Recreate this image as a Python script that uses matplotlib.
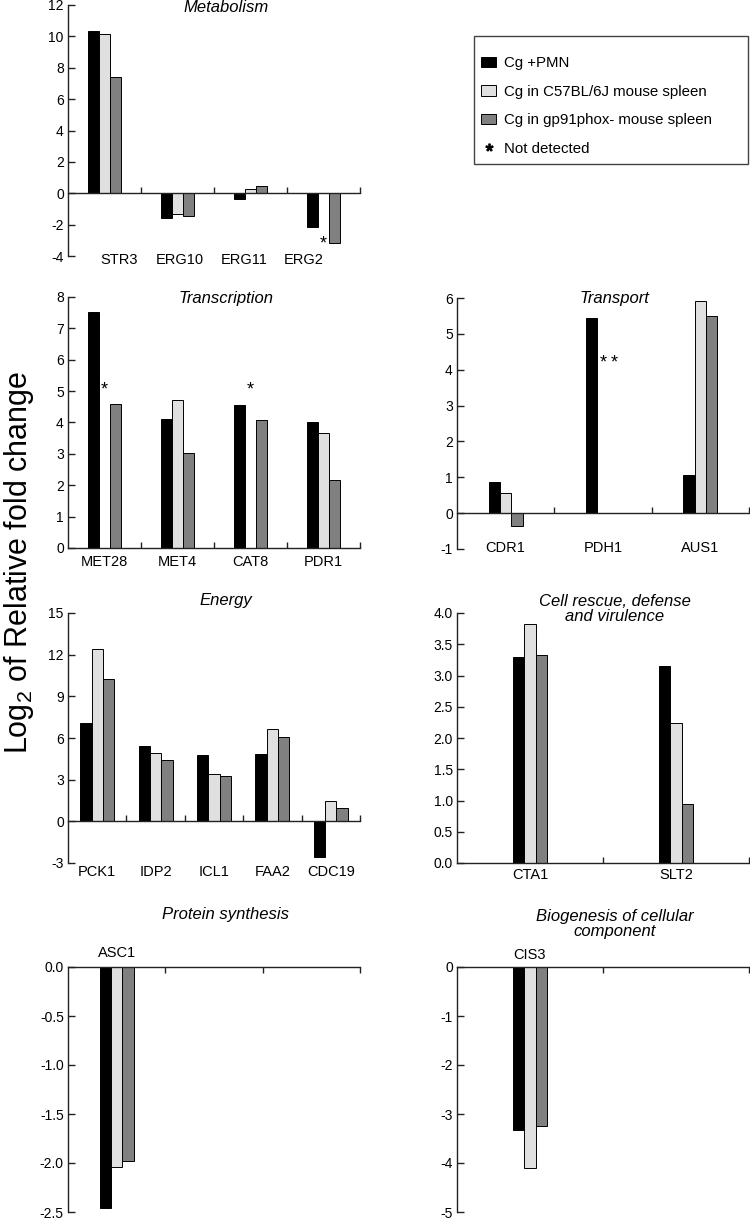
import numpy as np
import matplotlib
matplotlib.use('Agg')
import matplotlib.pyplot as plt
from matplotlib.patches import Patch, Rectangle
from matplotlib.lines import Line2D

plt.rcParams['font.family'] = ['Liberation Sans', 'DejaVu Sans']
plt.rcParams['axes.unicode_minus'] = False
plt.rcParams['mathtext.default'] = 'regular'

nan = np.nan

# dados (log2 fold change)
series_nomes = ['Cg +PMN', 'Cg in C57BL/6J mouse spleen', 'Cg in gp91phox- mouse spleen']
cores = ['#000000', '#e0e0e0', '#808080']

metab_genes = ['STR3', 'ERG10', 'ERG11', 'ERG2']
metab_pmn = [10.35, -1.60, -0.38, -2.13]
metab_c57 = [10.12, -1.34, 0.28, nan]
metab_gp91 = [7.41, -1.47, 0.49, -3.16]
metab_nd = [(3, 1, -3.25)]

transc_genes = ['MET28', 'MET4', 'CAT8', 'PDR1']
transc_pmn = [7.53, 4.10, 4.56, 4.03]
transc_c57 = [nan, 4.71, nan, 3.68]
transc_gp91 = [4.58, 3.02, 4.07, 2.16]
transc_nd = [(0, 1, 5.05), (2, 1, 5.05)]

transp_genes = ['CDR1', 'PDH1', 'AUS1']
transp_pmn = [0.87, 5.44, 1.06]
transp_c57 = [0.57, nan, 5.93]
transp_gp91 = [-0.35, nan, 5.49]
transp_nd = [(1, 1, 4.2), (1, 2, 4.2)]

energ_genes = ['PCK1', 'IDP2', 'ICL1', 'FAA2', 'CDC19']
energ_pmn = [7.09, 5.41, 4.78, 4.86, -2.55]
energ_c57 = [12.38, 4.90, 3.41, 6.66, 1.44]
energ_gp91 = [10.26, 4.42, 3.29, 6.06, 0.96]

cell_genes = ['CTA1', 'SLT2']
cell_pmn = [3.29, 3.15]
cell_c57 = [3.83, 2.24]
cell_gp91 = [3.33, 0.95]

prot_genes = ['ASC1']
prot_pmn = [-2.46]
prot_c57 = [-2.04]
prot_gp91 = [-1.98]

biog_genes = ['CIS3']
biog_pmn = [-3.32]
biog_c57 = [-4.10]
biog_gp91 = [-3.25]

W, H = 750, 1222
fig = plt.figure(figsize=(W / 100, H / 100), dpi=100)


def caixa(l, t, r, b):
    return [l / W, 1 - b / H, (r - l) / W, (b - t) / H]


def painel(pos, genes, series, nslots, ylim, passo, titulo, tit_dy, lab_dy,
           lab_x=None, decimal=False, topo=False, nd=()):
    ax = fig.add_axes(caixa(*pos))
    w = nslots * 11.3 / 292
    x = np.arange(len(genes)) + 0.5
    for k, (vals, cor) in enumerate(zip(series, cores)):
        ax.bar(x + (k - 1) * w, vals, w, color=cor, edgecolor='black', linewidth=0.7)

    ax.set_xlim(0, nslots)
    ax.set_ylim(*ylim)
    ax.set_yticks(np.arange(ylim[0], ylim[1] + passo / 2, passo))
    if decimal:
        ax.yaxis.set_major_formatter(plt.FormatStrFormatter('%.1f'))
    else:
        ax.yaxis.set_major_formatter(plt.FormatStrFormatter('%d'))

    ax.spines['top'].set_visible(False)
    ax.spines['right'].set_visible(False)
    ax.spines['bottom'].set_position(('data', 0))
    for s in ['left', 'bottom']:
        ax.spines[s].set_linewidth(1.0)
        ax.spines[s].set_color('#222222')

    ax.set_xticks(np.arange(1, nslots + 1))
    ax.set_xticklabels([])
    ax.tick_params(axis='x', direction='out' if topo else 'in', length=4.5, width=1.0, color='#222222')
    ax.tick_params(axis='y', direction='in', length=5, width=1.0, labelsize=10, pad=3, color='#222222')

    # nomes dos genes
    if lab_x is None:
        lab_x = x
    y0 = 0 if topo else ylim[0]
    dy = lab_dy if topo else -lab_dy
    for xi, g in zip(lab_x, genes):
        ax.annotate(g, (xi, y0), xytext=(0, dy), textcoords='offset pixels',
                    ha='center', va='center', fontsize=10.5, annotation_clip=False)

    # nao detectado
    for gi, si, yy in nd:
        ax.text(x[gi] + (si - 1) * w, yy, '*', ha='center', va='center', fontsize=13)

    ax.annotate(titulo, (0.54, 1), xycoords='axes fraction', xytext=(0, tit_dy),
                textcoords='offset pixels', ha='center', va='center',
                style='italic', fontsize=12, linespacing=1.05, annotation_clip=False)
    return ax


painel((68, 5, 360, 256), metab_genes, [metab_pmn, metab_c57, metab_gp91], 4, (-4, 12), 2,
       'Metabolism', -3, 4, lab_x=[0.70, 1.53, 2.41, 3.23], nd=metab_nd)
painel((68, 297, 360, 548), transc_genes, [transc_pmn, transc_c57, transc_gp91], 4, (0, 8), 1,
       'Transcription', -1, 14, nd=transc_nd)
painel((457, 298, 749, 549), transp_genes, [transp_pmn, transp_c57, transp_gp91], 3, (-1, 6), 1,
       'Transport', 0, -1, nd=transp_nd)
painel((68, 613, 360, 863), energ_genes, [energ_pmn, energ_c57, energ_gp91], 5, (-3, 15), 3,
       'Energy', 13, 9)
painel((457, 613, 749, 863), cell_genes, [cell_pmn, cell_c57, cell_gp91], 2, (0, 4), 0.5,
       'Cell rescue, defense\nand virulence', 4, 12, decimal=True)
painel((68, 967, 360, 1212), prot_genes, [prot_pmn, prot_c57, prot_gp91], 3, (-2.5, 0), 0.5,
       'Protein synthesis', 52, 14, decimal=True, topo=True)
painel((457, 967, 749, 1212), biog_genes, [biog_pmn, biog_c57, biog_gp91], 2, (-5, 0), 1,
       'Biogenesis of cellular\ncomponent', 43, 12, topo=True)

fig.text(2 / W, 1 - 562 / H, 'Log$_2$ of Relative fold change', rotation=90,
         ha='left', va='center', fontsize=22)

# legenda: caixa desenhada a parte
fig.add_artist(Rectangle((474 / W, 1 - 164 / H), 274 / W, 128 / H, transform=fig.transFigure,
                         facecolor='white', edgecolor='#444444', linewidth=1.0, zorder=5))
handles = [Patch(facecolor=c, edgecolor='black', linewidth=0.7) for c in cores]
handles.append(Line2D([], [], ls='none', marker='$*$', color='black', markersize=5))
leg = fig.legend(handles, series_nomes + ['Not detected'], loc='upper left',
                 bbox_to_anchor=(481 / W, 1 - 56 / H), borderaxespad=0, borderpad=0,
                 fontsize=10.8, handlelength=1.0, handleheight=0.7,
                 handletextpad=0.55, labelspacing=0.97, frameon=False)
leg.set_zorder(6)

fig.savefig('out.png', dpi=100)
